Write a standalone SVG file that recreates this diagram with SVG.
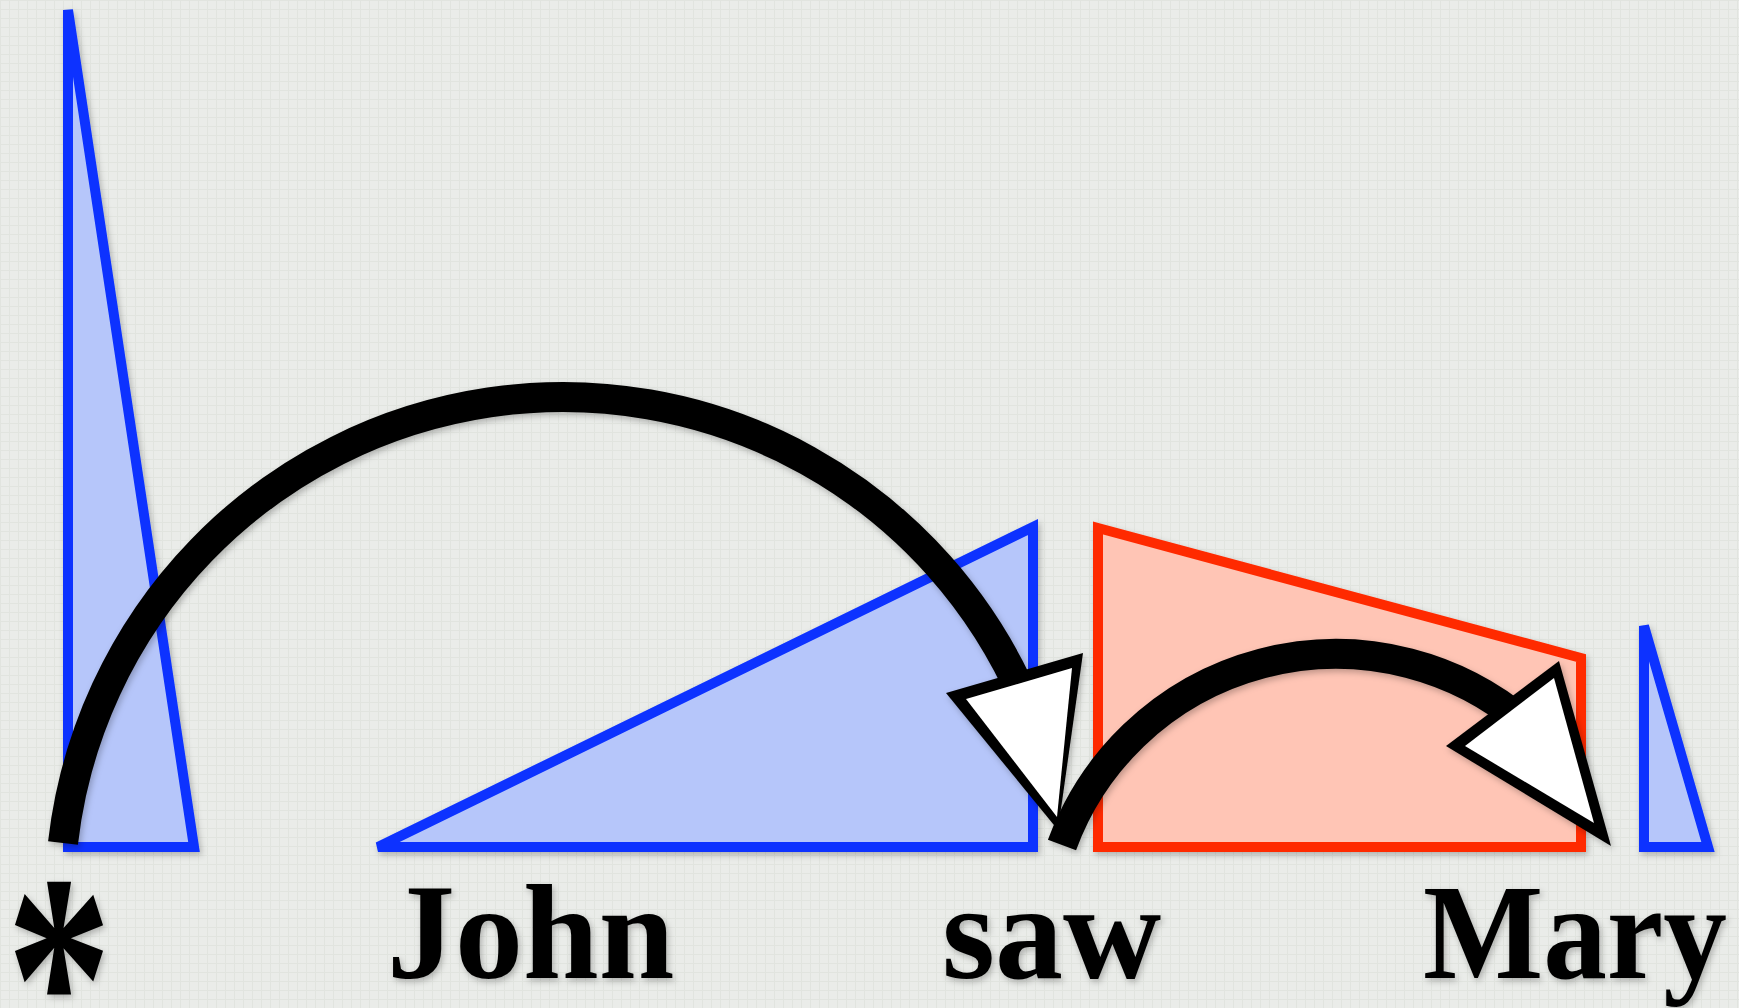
<svg xmlns="http://www.w3.org/2000/svg" width="1739" height="1008" viewBox="0 0 1739 1008">
<defs>
<filter id="sh" x="-10%" y="-10%" width="120%" height="120%">
<feDropShadow dx="2" dy="3" stdDeviation="3" flood-color="#000" flood-opacity="0.25"/>
</filter>
<pattern id="grid" width="9" height="9" patternUnits="userSpaceOnUse">
<path d="M0 0.5H9M0.5 0V9" stroke="#d8dbd6" stroke-width="1" opacity="0.5"/>
</pattern>
<style>
.blue{fill:#b6c6fa;stroke:#0a32ff;stroke-width:10;stroke-linejoin:miter}
.red{fill:#ffc5b5;stroke:#ff2a00;stroke-width:10;stroke-linejoin:miter}
.arc{fill:none;stroke:#000;stroke-width:30;stroke-linecap:butt}
.word{font-family:"Liberation Serif","Times New Roman",serif;font-weight:bold;font-size:136px;fill:#000}
</style>
</defs>
<rect width="1739" height="1008" fill="#eaece9"/>
<rect width="1739" height="1008" fill="url(#grid)"/>
<g filter="url(#sh)">
<g id="tri-star"><polygon class="blue" points="68,10 194,847 68,847"/></g>
<g id="tri-john"><polygon class="blue" points="378,847 1033,527 1033,847"/></g>
<g id="quad-saw"><polygon class="red" points="1098,528 1581,658 1581,847 1098,847"/></g>
<g id="tri-mary"><polygon class="blue" points="1644,626 1708,847 1644,847"/></g>
</g>
<g id="connectors" filter="url(#sh)">
<path class="arc" d="M 63 843 A 503.3 503.3 0 0 1 1025 700.6"/>
<path class="arc" d="M 1062 845 A 292 292 0 0 1 1525 723.4"/>
<polygon points="946,693 1083,653 1058,830" fill="#000"/>
<polygon points="966,699 1072,668 1057,817" fill="#fff"/>
<polygon points="1446,746 1559,661 1611,846" fill="#000"/>
<polygon points="1465,746 1554,678 1594,823" fill="#fff"/>
</g>
<g id="labels" filter="url(#sh)">
<text transform="translate(59,1079) scale(0.96,1.36)" text-anchor="middle" style="font-family:'Liberation Serif',serif;font-weight:bold;font-size:220px;fill:#000">*</text>
<text class="word" x="387" y="978">John</text>
<text class="word" x="942" y="978">saw</text>
<text class="word" x="1423" y="978" textLength="304" lengthAdjust="spacingAndGlyphs">Mary</text>
</g>
</svg>
